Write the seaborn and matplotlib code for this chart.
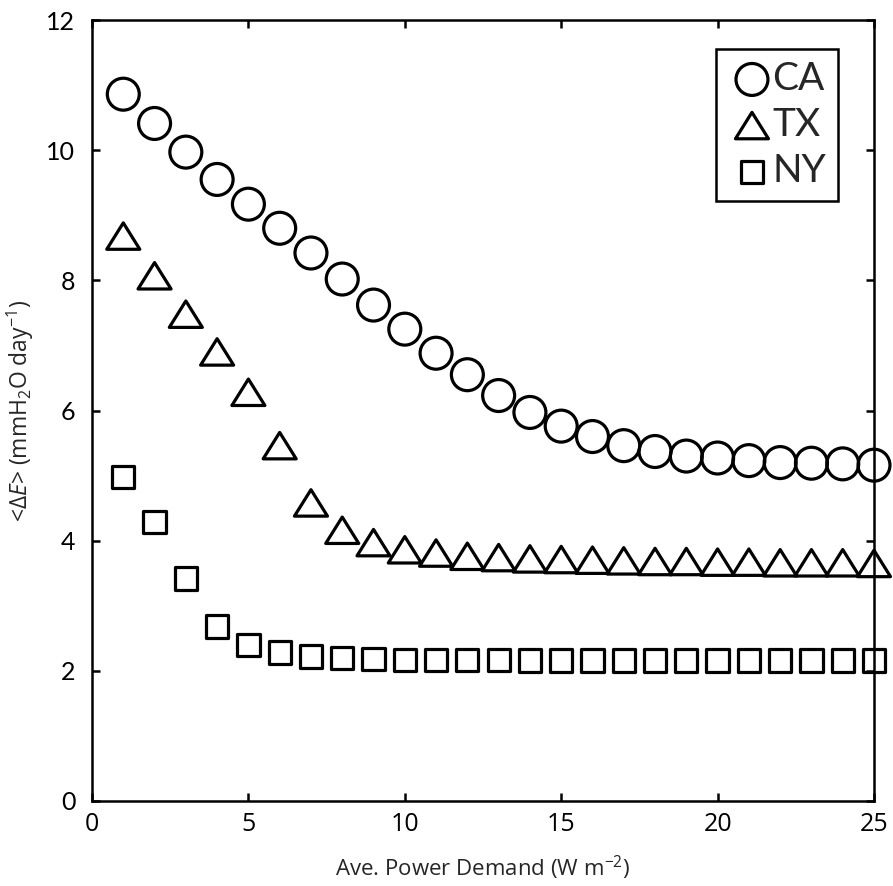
import matplotlib
matplotlib.use("Agg")
import matplotlib.pyplot as plt
from matplotlib.path import Path
import numpy as np
import pandas as pd
import seaborn as sns

# Average power demand (W m^-2)
power = list(range(1, 26))

# Mean evaporation change <dE> (mm H2O per day) for each state
ca = [10.86, 10.41, 9.97, 9.55, 9.17, 8.80, 8.42, 8.02, 7.62, 7.25,
      6.88, 6.55, 6.23, 5.97, 5.76, 5.60, 5.46, 5.37, 5.30, 5.27,
      5.23, 5.20, 5.19, 5.18, 5.16]
tx = [8.68, 8.07, 7.48, 6.90, 6.28, 5.46, 4.58, 4.16, 3.97, 3.86,
      3.81, 3.76, 3.74, 3.72, 3.71, 3.70, 3.69, 3.68, 3.68, 3.67,
      3.67, 3.66, 3.66, 3.66, 3.65]
ny = [4.98, 4.29, 3.42, 2.68, 2.40, 2.28, 2.22, 2.20, 2.18, 2.17,
      2.17, 2.17, 2.17, 2.16, 2.16, 2.16, 2.16, 2.16, 2.16, 2.16,
      2.16, 2.16, 2.16, 2.16, 2.16]

states = ["CA", "TX", "NY"]
xticks = [0, 5, 10, 15, 20, 25]
yticks = [0, 2, 4, 6, 8, 10, 12]

df = pd.concat([
    pd.DataFrame({"power": power, "dE": vals, "state": st})
    for st, vals in zip(states, [ca, tx, ny])
], ignore_index=True)

sns.set_style("ticks")
plt.rcParams["font.family"] = ["Open Sans", "DejaVu Sans"]
plt.rcParams["mathtext.fontset"] = "custom"
plt.rcParams["mathtext.rm"] = "Open Sans"
plt.rcParams["mathtext.it"] = "Open Sans:italic"
plt.rcParams["axes.linewidth"] = 1.8

fig = plt.figure(figsize=(8.93, 8.86), dpi=100)
ax = fig.add_axes([92 / 893, 85 / 886, 782 / 893, 781 / 886])

# slightly flattened open triangle
tri = Path([(0, 0.8), (-1, -0.8), (1, -0.8), (0, 0.8)],
           [Path.MOVETO, Path.LINETO, Path.LINETO, Path.CLOSEPOLY])
styles = {"CA": ("o", 529), "TX": (tri, 566), "NY": ("s", 256)}

for st in states:
    mk, sz = styles[st]
    sub = df[df["state"] == st]
    sns.scatterplot(data=sub, x="power", y="dE", ax=ax, marker=mk, s=sz,
                    facecolor="none", edgecolor="black", linewidth=2.3,
                    clip_on=False, zorder=3, legend=False)

ax.set_xlim(0, 25)
ax.set_ylim(0, 12)
ax.set_xticks(xticks)
ax.set_yticks(yticks)
ax.tick_params(direction="in", length=6, width=1.8, top=True, right=True,
               colors="black")
ax.tick_params(axis="x", pad=8, labelsize=18)
ax.tick_params(axis="y", pad=12, labelsize=18)
for lab in ax.get_yticklabels():
    lab.set_fontfamily(["Lato", "DejaVu Sans"])
for sp in ax.spines.values():
    sp.set_color("black")
    sp.set_linewidth(1.8)
    sp.set_zorder(4)

ax.set_xlabel("Ave. Power Demand (W m$^{-2}$)", fontsize=16)
ax.set_ylabel(r"<$\mathit{ΔE}$> (mmH$_2$O day$^{-1}$)", fontsize=16.5)
ax.xaxis.set_label_coords(0.5, -0.068)
ax.yaxis.set_label_coords(-0.072, 0.5)

leg = ax.legend(handles=ax.collections, labels=states, loc="upper left",
                bbox_to_anchor=(716 / 893, 1 - 49 / 886),
                bbox_transform=fig.transFigure, borderaxespad=0,
                prop={"family": ["Lato", "DejaVu Sans"], "size": 28},
                frameon=True, fancybox=False, framealpha=1,
                edgecolor="black", borderpad=0.3, handlelength=1.25,
                handletextpad=-0.1, labelspacing=0.26, scatterpoints=1)
leg.get_frame().set_linewidth(1.8)

fig.savefig("out.png", dpi=100)
